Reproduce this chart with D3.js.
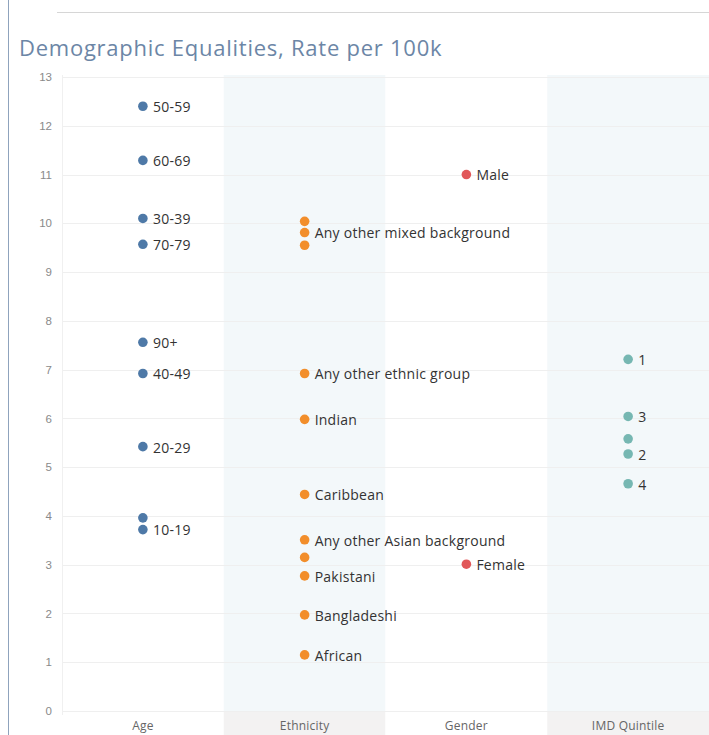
<!DOCTYPE html>
<html>
<head>
<meta charset="utf-8">
<script src="https://cdn.jsdelivr.net/npm/d3@7"></script>
<style>
  body { margin: 0; background: #fff; }
  svg { display: block; font-family: "Open Sans", "Noto Sans", sans-serif; }
  .tick text { fill: #8a8a8a; font-size: 11.5px; }
  .lbl { fill: #333; font-size: 14px; letter-spacing: 0.25px; }
  .hdr { fill: #666; font-size: 12px; letter-spacing: 0.2px; }
</style>
</head>
<body>
<div id="chart"></div>
<script>
// categories shown along the x axis
var groups = ["Age", "Ethnicity", "Gender", "IMD Quintile"];
var groupColors = ["#4e79a7", "#f28e2b", "#e15759", "#76b7b2"];

// rate per 100k, one array per group (null label = label hidden by overlap)
var ageNames = ["50-59", "60-69", "30-39", "70-79", "90+", "40-49", "20-29", null, "10-19"];
var ageRates = [12.40, 11.29, 10.10, 9.57, 7.56, 6.92, 5.42, 3.96, 3.72];

var ethNames = [null, "Any other mixed background", null, "Any other ethnic group", "Indian", "Caribbean",
    "Any other Asian background", null, "Pakistani", "Bangladeshi", "African"];
var ethRates = [10.04, 9.81, 9.55, 6.92, 5.98, 4.44, 3.51, 3.15, 2.77, 1.97, 1.15];

var genderNames = ["Male", "Female"];
var genderRates = [11.0, 3.01];

var imdNames = ["1", "3", null, "2", "4"];
var imdRates = [7.21, 6.04, 5.58, 5.27, 4.66];

var yTicks = d3.range(0, 14);

var width = 709, height = 735;
var margin = {top: 77, left: 62, right: 0, bottom: 24};
var plotBottom = height - margin.bottom;

var svg = d3.select("#chart").append("svg")
    .attr("width", width)
    .attr("height", height);

//frame lines
svg.append("line").attr("x1", 8.5).attr("x2", 8.5).attr("y1", 0).attr("y2", height)
    .attr("stroke", "#8fa3bd").attr("stroke-width", 1);
svg.append("line").attr("x1", 57).attr("x2", width).attr("y1", 12.5).attr("y2", 12.5)
    .attr("stroke", "#d6d6d6");

svg.append("text")
    .attr("x", 19).attr("y", 56)
    .attr("fill", "#6c86a6")
    .style("font-size", "22px")
    .style("letter-spacing", "0.75px")
    .text("Demographic Equalities, Rate per 100k");

var x = d3.scaleBand().domain(groups).range([margin.left, width]);
var y = d3.scaleLinear().domain([0, 13]).range([plotBottom, margin.top]);

//column bands (alternate shading)
svg.append("g").selectAll("rect").data(groups).enter().append("rect")
    .attr("x", function (d) { return x(d); })
    .attr("y", margin.top - 2)
    .attr("width", x.bandwidth())
    .attr("height", plotBottom - margin.top + 2)
    .attr("fill", function (d, i) { return i % 2 ? "#f3f8fa" : "#fff"; });

//header cells at the bottom
svg.append("g").selectAll("rect").data(groups).enter().append("rect")
    .attr("x", function (d) { return x(d); })
    .attr("y", plotBottom + 1)
    .attr("width", x.bandwidth())
    .attr("height", margin.bottom)
    .attr("fill", function (d, i) { return i % 2 ? "#f3f2f2" : "#fff"; });

svg.append("g").selectAll("text").data(groups).enter().append("text")
    .attr("class", "hdr")
    .attr("x", function (d) { return x(d) + x.bandwidth() / 2; })
    .attr("y", plotBottom + 19)
    .attr("text-anchor", "middle")
    .text(function (d) { return d; });

//gridlines
svg.append("g").selectAll("line").data(yTicks).enter().append("line")
    .attr("x1", margin.left).attr("x2", width)
    .attr("y1", function (d) { return Math.round(y(d)) + 0.5; })
    .attr("y2", function (d) { return Math.round(y(d)) + 0.5; })
    .attr("stroke", "#efefef");

svg.append("line").attr("x1", margin.left + 0.5).attr("x2", margin.left + 0.5)
    .attr("y1", margin.top - 2).attr("y2", plotBottom + 4).attr("stroke", "#f0f0f0");

var yAxis = d3.axisLeft(y).tickValues(yTicks).tickSize(0).tickPadding(10);
var ga = svg.append("g").attr("transform", "translate(" + margin.left + ",0)").call(yAxis);
ga.select(".domain").remove();

//points
var series = [
    {names: ageNames, rates: ageRates},
    {names: ethNames, rates: ethRates},
    {names: genderNames, rates: genderRates},
    {names: imdNames, rates: imdRates}
];
var points = [];
series.forEach(function (s, i) {
    s.rates.forEach(function (v, j) {
        points.push({group: groups[i], color: groupColors[i], rate: v, name: s.names[j]});
    });
});

var cx = function (d) { return x(d.group) + x.bandwidth() / 2; };

svg.append("g").selectAll("circle").data(points).enter().append("circle")
    .attr("cx", cx)
    .attr("cy", function (d) { return y(d.rate); })
    .attr("r", 4.8)
    .attr("fill", function (d) { return d.color; });

svg.append("g").selectAll("text").data(points.filter(function (d) { return d.name; }))
    .enter().append("text")
    .attr("class", "lbl")
    .attr("x", function (d) { return cx(d) + 10; })
    .attr("y", function (d) { return y(d.rate); })
    .attr("dy", "0.42em")
    .text(function (d) { return d.name; });
</script>
</body>
</html>
